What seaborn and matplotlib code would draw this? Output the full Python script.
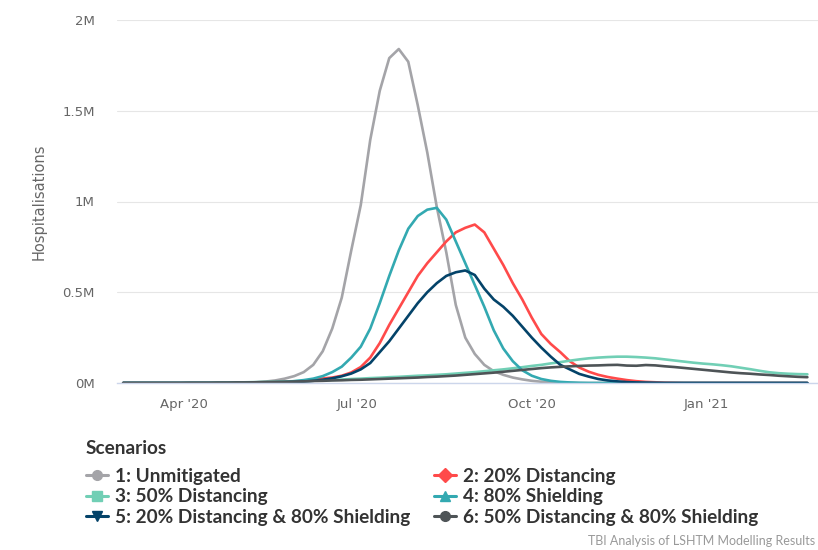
import numpy as np
import pandas as pd
import seaborn as sns
import matplotlib.pyplot as plt
from matplotlib.lines import Line2D

# 5-day grid, values in millions of hospitalisations
dates = pd.date_range("2020-02-29", periods=73, freq="5D")

unmitigated = [
    0, 0, 0, 0, 0, 0, 0, 0, 0, 0,
    0, 0.001, 0.001, 0.002, 0.004, 0.008, 0.014, 0.024, 0.038, 0.06,
    0.10, 0.175, 0.30, 0.47, 0.73, 0.98, 1.34, 1.61, 1.79, 1.84,
    1.77, 1.53, 1.27, 0.97, 0.72, 0.43, 0.25, 0.16, 0.10, 0.065,
    0.045, 0.03, 0.02, 0.012, 0.007, 0.004, 0.002, 0.001, 0, 0,
    0, 0, 0, 0, 0, 0, 0, 0, 0, 0,
    0, 0, 0, 0, 0, 0, 0, 0, 0, 0,
    0, 0, 0,
]
distancing_20 = [
    0, 0, 0, 0, 0, 0, 0, 0, 0, 0,
    0, 0, 0.001, 0.001, 0.001, 0.002, 0.003, 0.004, 0.007, 0.011,
    0.017, 0.025, 0.03, 0.04, 0.058, 0.088, 0.14, 0.22, 0.32, 0.41,
    0.50, 0.59, 0.66, 0.72, 0.78, 0.83, 0.855, 0.873, 0.83, 0.74,
    0.65, 0.55, 0.46, 0.36, 0.27, 0.215, 0.17, 0.12, 0.085, 0.062,
    0.045, 0.033, 0.024, 0.016, 0.01, 0.006, 0.004, 0.002, 0.001, 0,
    0, 0, 0, 0, 0, 0, 0, 0, 0, 0,
    0, 0, 0,
]
distancing_50 = [
    0, 0, 0, 0, 0, 0, 0, 0.001, 0.001, 0.001,
    0.002, 0.002, 0.003, 0.004, 0.005, 0.006, 0.007, 0.008, 0.010, 0.011,
    0.013, 0.015, 0.017, 0.019, 0.022, 0.024, 0.027, 0.029, 0.032, 0.034,
    0.037, 0.040, 0.042, 0.045, 0.048, 0.052, 0.056, 0.060, 0.065, 0.070,
    0.075, 0.081, 0.087, 0.094, 0.100, 0.108, 0.115, 0.123, 0.130, 0.136,
    0.140, 0.143, 0.145, 0.145, 0.143, 0.140, 0.136, 0.130, 0.124, 0.118,
    0.112, 0.107, 0.103, 0.098, 0.092, 0.084, 0.076, 0.067, 0.059, 0.054,
    0.051, 0.049, 0.048,
]
shielding_80 = [
    0, 0, 0, 0, 0, 0, 0, 0, 0, 0,
    0, 0, 0.001, 0.001, 0.002, 0.003, 0.004, 0.006, 0.01, 0.016,
    0.024, 0.038, 0.06, 0.09, 0.14, 0.20, 0.30, 0.44, 0.59, 0.73,
    0.85, 0.92, 0.955, 0.965, 0.90, 0.78, 0.66, 0.54, 0.42, 0.29,
    0.19, 0.12, 0.07, 0.04, 0.022, 0.012, 0.006, 0.003, 0.001, 0,
    0, 0, 0, 0, 0, 0, 0, 0, 0, 0,
    0, 0, 0, 0, 0, 0, 0, 0, 0, 0,
    0, 0, 0,
]
dist20_shield80 = [
    0, 0, 0, 0, 0, 0, 0, 0, 0, 0,
    0, 0, 0, 0, 0.001, 0.002, 0.002, 0.003, 0.005, 0.008,
    0.012, 0.018, 0.026, 0.037, 0.052, 0.075, 0.11, 0.17, 0.23, 0.30,
    0.37, 0.44, 0.50, 0.55, 0.59, 0.61, 0.62, 0.595, 0.52, 0.46,
    0.42, 0.37, 0.31, 0.25, 0.195, 0.145, 0.10, 0.075, 0.05, 0.035,
    0.022, 0.014, 0.009, 0.005, 0.003, 0.002, 0.001, 0, 0, 0,
    0, 0, 0, 0, 0, 0, 0, 0, 0, 0,
    0, 0, 0,
]
dist50_shield80 = [
    0, 0, 0, 0, 0, 0, 0, 0.001, 0.001, 0.001,
    0.002, 0.002, 0.003, 0.003, 0.004, 0.005, 0.006, 0.007, 0.008, 0.009,
    0.011, 0.012, 0.014, 0.015, 0.017, 0.018, 0.020, 0.022, 0.024, 0.026,
    0.028, 0.030, 0.033, 0.035, 0.038, 0.041, 0.045, 0.049, 0.053, 0.057,
    0.062, 0.067, 0.072, 0.077, 0.082, 0.086, 0.089, 0.092, 0.094, 0.096,
    0.097, 0.099, 0.100, 0.096, 0.095, 0.099, 0.097, 0.092, 0.088, 0.083,
    0.078, 0.073, 0.068, 0.063, 0.058, 0.054, 0.051, 0.047, 0.044, 0.040,
    0.037, 0.034, 0.032,
]

scenarios = [
    "1: Unmitigated",
    "2: 20% Distancing",
    "3: 50% Distancing",
    "4: 80% Shielding",
    "5: 20% Distancing & 80% Shielding",
    "6: 50% Distancing & 80% Shielding",
]
series = [unmitigated, distancing_20, distancing_50, shielding_80,
          dist20_shield80, dist50_shield80]
colors = ["#a4a4a8", "#ff4a4a", "#71cfb5", "#33a9b1", "#044369", "#4e5457"]
markers = ["o", "D", "s", "^", "v", "o"]

y_ticks = [0, 0.5, 1, 1.5, 2]
y_labels = ["0M", "0.5M", "1M", "1.5M", "2M"]
x_ticks = pd.to_datetime(["2020-04-01", "2020-07-01", "2020-10-01", "2021-01-01"])
x_labels = ["Apr '20", "Jul '20", "Oct '20", "Jan '21"]

df = pd.concat(
    [pd.DataFrame({"date": dates, "value": vals, "scenario": name})
     for name, vals in zip(scenarios, series)],
    ignore_index=True,
)

sns.set_style("white")
plt.rcParams["font.family"] = ["DejaVu Sans"]

fig = plt.figure(figsize=(8.18, 5.5), dpi=100)
ax = fig.add_axes([117 / 818, 1 - 383 / 550, 701 / 818, 363 / 550])

sns.lineplot(data=df, x="date", y="value", hue="scenario", hue_order=scenarios,
             palette=dict(zip(scenarios, colors)), linewidth=1.9,
             legend=False, ax=ax)

ax.set_xlim(pd.Timestamp("2020-02-25 18:00"), pd.Timestamp("2021-02-28 14:00"))
ax.set_ylim(0, 2)
ax.set_yticks(y_ticks)
ax.set_yticklabels(y_labels)
ax.set_xticks(x_ticks)
ax.set_xticklabels(x_labels)
ax.grid(axis="y", color="#e6e6e6", linewidth=0.8)
ax.set_axisbelow(True)
for side in ["left", "right", "top"]:
    ax.spines[side].set_visible(False)
ax.spines["bottom"].set_color("#ccd6eb")
ax.spines["bottom"].set_linewidth(1)
ax.tick_params(axis="x", length=9, width=0.8, color="#ccd6eb", pad=2,
               labelsize=9.5, labelcolor="#666666")
ax.tick_params(axis="y", length=0, pad=16, labelsize=9.5, labelcolor="#666666")
ax.set_xlabel("")
ax.set_ylabel("Hospitalisations", fontsize=10.5, color="#666666")
ax.yaxis.set_label_coords(-0.1, 0.5)

# legend: title drawn separately so the gap below it can be set
leg_font = {"family": ["Lato", "DejaVu Sans"], "weight": "bold", "size": 13.7}
fig.text(86 / 818, 1 - 448 / 550, "Scenarios", ha="left", va="center",
         color="#333333", **{"family": leg_font["family"], "weight": "bold",
                             "size": leg_font["size"]})

handles = [Line2D([0], [0], color=c, marker=m, markersize=7, linewidth=2.2)
           for c, m in zip(colors, markers)]
order = [0, 2, 4, 1, 3, 5]
leg = fig.legend([handles[i] for i in order], [scenarios[i] for i in order],
                 ncol=2, loc="upper left", bbox_to_anchor=(86 / 818, 1 - 468 / 550),
                 frameon=False, borderpad=0, borderaxespad=0,
                 handlelength=1.15, handletextpad=0.4, columnspacing=1.2,
                 labelspacing=0.18, prop=leg_font)
for t in leg.get_texts():
    t.set_color("#333333")

fig.text(815 / 818, 1 - 541 / 550, "TBI Analysis of LSHTM Modelling Results",
         ha="right", va="center", fontsize=9, color="#999999",
         family=["Lato", "DejaVu Sans"])

fig.savefig("out.png", dpi=100)
